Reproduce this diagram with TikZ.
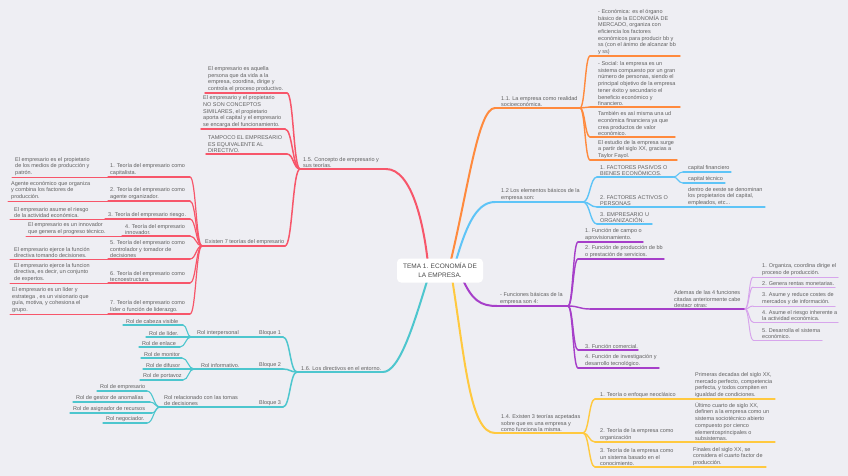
\documentclass[tikz,border=0pt]{standalone}
\usepackage{fontspec}
\setmainfont{Liberation Sans}
\usetikzlibrary{calc}
\definecolor{bgc}{HTML}{EEEEF3}
\definecolor{txtc}{HTML}{606060}
\definecolor{cenc}{HTML}{4A4A4A}
\definecolor{redc}{HTML}{F7566A}
\definecolor{orac}{HTML}{FF8A3D}
\definecolor{bluc}{HTML}{5EC4F7}
\definecolor{purc}{HTML}{A63FC9}
\definecolor{lpurc}{HTML}{D7A5EC}
\definecolor{yelc}{HTML}{FFC93F}
\definecolor{teac}{HTML}{4DC6CE}
\tikzset{
  txt/.style={font=\fontsize{5.5}{6.7}\selectfont, text=txtc, align=left, inner xsep=0pt, inner ysep=1pt, anchor=south west},
  ln/.style={line cap=round, line join=round},
  r1/.style={ln, draw=redc, line width=2pt}, r2/.style={ln, draw=redc, line width=1.5pt},
  r3/.style={ln, draw=redc, line width=1.2pt}, r4/.style={ln, draw=redc, line width=1pt},
  t1/.style={ln, draw=teac, line width=2pt}, t2/.style={ln, draw=teac, line width=1.5pt},
  t3/.style={ln, draw=teac, line width=1.1pt},
  o1/.style={ln, draw=orac, line width=2pt}, o2/.style={ln, draw=orac, line width=1.4pt},
  b1/.style={ln, draw=bluc, line width=2pt}, b2/.style={ln, draw=bluc, line width=1.4pt},
  b3/.style={ln, draw=bluc, line width=1.1pt},
  p1/.style={ln, draw=purc, line width=2pt}, p2/.style={ln, draw=purc, line width=1.4pt},
  lp/.style={ln, draw=lpurc, line width=1pt},
  y1/.style={ln, draw=yelc, line width=2pt}, y2/.style={ln, draw=yelc, line width=1.4pt},
  y3/.style={ln, draw=yelc, line width=1.1pt},
}
\newcommand\mmitem[7][]{%
  \coordinate (#2-l) at (#3,#5);
  \coordinate (#2-r) at (#4,#5);
  \draw[#1] (#2-l) -- (#2-r);
  \node[txt] (#2) at (#6,#5) {#7};}
\newcommand\mmlink[3][]{\draw[#1] let \p1=(#2), \p2=(#3) in (\p1) .. controls ({(\x1+\x2)/2},\y1) and ({(\x1+\x2)/2},\y2) .. (\p2);}
\begin{document}
\begin{tikzpicture}[x=1pt,y=-1pt]
\useasboundingbox (0,0) rectangle (848,476);
\fill[bgc] (0,0) rectangle (848,476);

% ---------- red ----------
\mmitem[r1]{R0}{300}{386}{169}{303}{1.5. Concepto de empresario y\\sus teorías.}
\mmitem[r2]{A1}{205}{287}{93}{208}{El empresario es aquella\\persona que da vida a la\\empresa, coordina, dirige y\\controla el proceso productivo.}
\mmitem[r2]{A2}{201}{285}{129}{203}{El empresario y el propietario\\NO SON CONCEPTOS\\SIMILARES, el propietario\\aporta el capital y el empresario\\se encarga del funcionamiento.}
\mmitem[r2]{A3}{206}{287}{154}{208}{TAMPOCO EL EMPRESARIO\\ES EQUIVALENTE AL\\DIRECTIVO.}
\mmitem[r2]{A4}{202}{285}{246}{205}{Existen 7 teorías del empresario}
\mmlink[r2]{R0-l}{A1-r}
\mmlink[r2]{R0-l}{A2-r}
\mmlink[r2]{R0-l}{A3-r}
\mmlink[r2]{R0-l}{A4-r}
\mmitem[r3]{T1}{108}{190}{177}{110}{1. Teoría del empresario como\\capitalista.}
\mmitem[r4]{G1}{12}{108}{177}{15}{El empresario es el propietario\\de los medios de producción y\\patrón.}
\mmitem[r3]{T2}{108}{190}{201}{110}{2. Teoría del empresario como\\agente organizador.}
\mmitem[r4]{G2}{8}{108}{201}{11}{Agente económico que organiza\\y combina los factores de\\producción.}
\mmitem[r3]{T3}{105}{190}{219}{108}{3. Teoría del empresario riesgo.}
\mmitem[r4]{G3}{10}{105}{219}{14}{El empresario asume el riesgo\\de la actividad económica.}
\mmitem[r3]{T4}{122}{190}{236}{125}{4. Teoría del empresario\\innovador.}
\mmitem[r4]{G4}{26}{122}{236}{28}{El empresario es un innovador\\que genera el progreso técnico.}
\mmitem[r3]{T5}{108}{190}{259}{110}{5. Teoría del empresario como\\controlador y tomador de\\decisiones}
\mmitem[r4]{G5}{10}{108}{259}{14}{El empresario ejerce la función\\directiva tomando decisiones.}
\mmitem[r3]{T6}{108}{190}{283}{110}{6. Teoría del empresario como\\tecnoestructura.}
\mmitem[r4]{G6}{10}{108}{283}{14}{El empresario ejerce la funcion\\directiva, es decir, un conjunto\\de expertos.}
\mmitem[r3]{T7}{108}{190}{314}{110}{7. Teoría del empresario como\\líder o función de liderazgo.}
\mmitem[r4]{G7}{10}{108}{314}{12}{El empresario es un líder y\\estratega , es un visionario que\\guía, motiva, y cohesiona el\\grupo.}
\foreach \t in {T1,T2,T3,T4,T5,T6,T7}{\mmlink[r3]{A4-l}{\t-r}}

% ---------- teal ----------
\mmitem[t1]{L0}{297}{383}{372}{301}{1.6. Los directivos en el entorno.}
\mmitem[t2]{B1}{240}{283}{337}{259}{Bloque 1}
\mmitem[t2]{RI}{191}{240}{337}{197}{Rol interpersonal}
\mmitem[t3]{CV}{123}{183}{325}{126}{Rol de cabeza visible}
\mmitem[t3]{LI}{146}{185}{337}{149}{Rol de líder.}
\mmitem[t3]{EN}{139}{180}{347}{142}{Rol de enlace}
\mmitem[t2]{B2}{240}{283}{369}{259}{Bloque 2}
\mmitem[t2]{RF}{194}{240}{369}{201}{Rol informativo.}
\mmitem[t3]{MO}{141}{182}{358}{144}{Rol de monitor}
\mmitem[t3]{DI}{143}{182}{369}{146}{Rol de difusor}
\mmitem[t3]{PO}{140}{183}{380}{143}{Rol de portavoz}
\mmitem[t2]{B3}{240}{283}{407}{259}{Bloque 3}
\mmitem[t2]{RD}{160}{240}{407}{164}{Rol relacionado con las tomas\\de decisiones}
\mmitem[t3]{EM}{97}{147}{391}{100}{Rol de empresario}
\mmitem[t3]{GA}{73}{150}{402}{76}{Rol de gestor de anomalías}
\mmitem[t3]{AR}{70}{152}{413}{73}{Rol de asignador de recursos}
\mmitem[t3]{NE}{103}{147}{423}{106}{Rol negociador.}
\foreach \t in {B1,B2,B3}{\mmlink[t2]{L0-l}{\t-r}}
\foreach \t in {CV,LI,EN}{\mmlink[t3]{RI-l}{\t-r}}
\foreach \t in {MO,DI,PO}{\mmlink[t3]{RF-l}{\t-r}}
\foreach \t in {EM,GA,AR,NE}{\mmlink[t3]{RD-l}{\t-r}}

% ---------- orange ----------
\mmitem[o1]{O0}{495}{580}{108}{501}{1.1. La empresa como realidad\\socioeconómica.}
\mmitem[o2]{EC}{590}{680}{56}{598}{- Económica: es el órgano\\básico de la ECONOMÍA DE\\MERCADO, organiza con\\eficiencia los factores\\económicos para producir bb y\\ss (con el ánimo de alcanzar bb\\y ss)}
\mmitem[o2]{SO}{590}{680}{107}{598}{- Social: la empresa es un\\sistema compuesto por un gran\\número de personas, siendo el\\principal objetivo de la empresa\\tener éxito y secundario el\\beneficio económico y\\financiero.}
\mmitem[o2]{TA}{590}{675}{137}{598}{También es así misma una ud\\económica financiera ya que\\crea productos de valor\\económico.}
\mmitem[o2]{ES}{590}{677}{160}{598}{El estudio de la empresa surge\\a partir del siglo XX, gracias a\\Taylor Fayol.}
\foreach \t in {EC,SO,TA,ES}{\mmlink[o2]{O0-r}{\t-l}}

% ---------- blue ----------
\mmitem[b1]{BB}{495}{583}{202}{501}{1.2 Los elementos básicos de la\\empresa son:}
\mmitem[b2]{F1}{597}{673}{177}{600}{1. FACTORES PASIVOS O\\BIENES ECONÓMICOS.}
\mmitem[b3]{CF}{683}{731}{172}{688}{capital financiero}
\mmitem[b3]{CT}{683}{725}{183}{688}{capital técnico}
\mmitem[b2]{F2}{597}{673}{207}{600}{2. FACTORES ACTIVOS O\\PERSONAS}
\mmitem[b3]{DE}{673}{765}{207}{688}{dentro de eeste se denominan\\los propietarios del capital,\\empleados, etc...}
\mmitem[b2]{F3}{597}{652}{224}{600}{3. EMPRESARIO U\\ORGANIZACIÓN.}
\foreach \t in {F1,F2,F3}{\mmlink[b2]{BB-r}{\t-l}}
\foreach \t in {CF,CT}{\mmlink[b3]{F1-r}{\t-l}}

% ---------- purple ----------
\mmitem[p1]{PP}{497}{568}{306}{500}{- Funciones básicas de la\\empresa son 4:}
\mmitem[p2]{FC}{578}{643}{242}{585}{1. Función de campo o\\aprovisionamiento.}
\mmitem[p2]{FP}{578}{664}{259}{585}{2. Función de producción de bb\\o prestación de servicios.}
\mmitem[p2]{AD}{590}{745}{309}{674}{Ademas de las 4 funciones\\citadas anteriormente cabe\\destacr otras:}
\mmitem[lp]{L1}{753}{838}{277}{762}{1. Organiza, coordina dirige el\\proceso de producción.}
\mmitem[lp]{L2}{753}{835}{287}{762}{2. Genera rentas monetarias.}
\mmitem[lp]{L3}{753}{835}{306}{762}{3. Asume y reduce costes de\\mercados y de información.}
\mmitem[lp]{L4}{753}{838}{322}{762}{4. Asume el riesgo inherente a\\la actividad económica.}
\mmitem[lp]{L5}{753}{822}{340}{762}{5. Desarrolla el sistema\\económico.}
\mmitem[p2]{FCo}{578}{638}{350}{585}{3. Función comercial.}
\mmitem[p2]{FI}{578}{659}{368}{585}{4. Función de investigación y\\desarrollo tecnológico.}
\foreach \t in {FC,FP,AD,FCo,FI}{\mmlink[p2]{PP-r}{\t-l}}
\foreach \t in {L1,L2,L3,L4,L5}{\mmlink[lp]{AD-r}{\t-l}}

% ---------- yellow ----------
\mmitem[y1]{YY}{495}{583}{433}{501}{1.4. Existen 3 teorías acpetadas\\sobre que es una empresa y\\como funciona la misma.}
\mmitem[y2]{N1}{595}{690}{399}{600}{1. Teoría o enfoque neoclásico}
\mmitem[y3]{M1}{690}{775}{399}{695}{Primeras decadas del siglo XX,\\mercado perfecto, competencia\\perfecta, y todos compiten en\\igualdad de condiciones.}
\mmitem[y2]{N2}{595}{690}{442}{600}{2. Teoría de la empresa como\\organización}
\mmitem[y3]{M2}{690}{775}{442}{695}{Último cuarto de siglo XX,\\definen a la empresa como un\\sistema sociotécnico abierto\\compuesto por cienco\\elementosprincipales o\\subsistemas.}
\mmitem[y2]{N3}{595}{690}{467}{600}{3. Teoría de la empresa como\\un sistema basado en el\\conocimiento.}
\mmitem[y3]{M3}{690}{766}{467}{693}{Finales del siglo XX, se\\considera el cuarto factor de\\producción.}
\foreach \t in {N1,N2,N3}{\mmlink[y2]{YY-r}{\t-l}}

% ---------- main branches ----------
\coordinate (cR) at (428,264);
\coordinate (cO) at (450,264);
\coordinate (cB) at (455,264);
\coordinate (cP) at (462,278);
\coordinate (cT) at (428,278);
\coordinate (cY) at (452,278);
\draw[r1] (cR) .. controls (424,225) and (412,169) .. (R0-r);
\draw[o1] (cO) .. controls (468,190) and (478,108) .. (O0-l);
\draw[b1] (cB) .. controls (465,230) and (475,202) .. (BB-l);
\draw[p1] (cP) .. controls (472,300) and (480,306) .. (PP-l);
\draw[t1] (cT) .. controls (415,320) and (400,372) .. (L0-r);
\draw[y1] (cY) .. controls (465,360) and (470,433) .. (YY-l);

\node[fill=white, rounded corners=4pt, minimum width=86pt, minimum height=24pt, align=center,
      font=\fontsize{6.5}{9}\selectfont, text=cenc, inner sep=0pt] (c) at (440,270.5) {TEMA 1. ECONOMÍA DE\\LA EMPRESA.};
\end{tikzpicture}
\end{document}
